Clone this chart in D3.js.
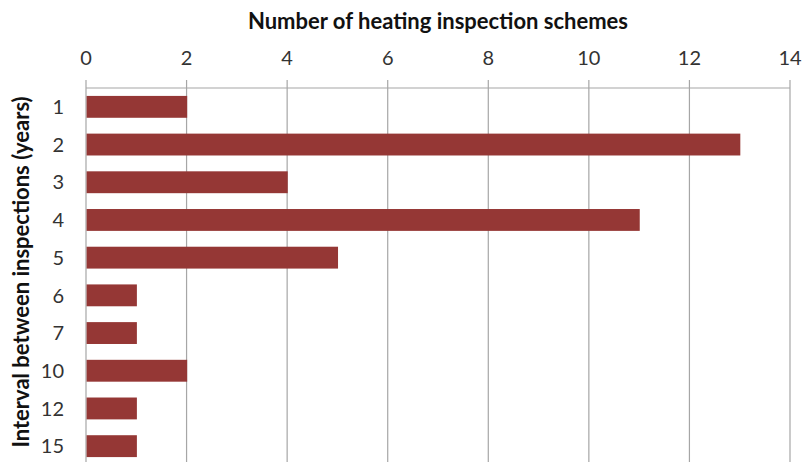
<!DOCTYPE html>
<html>
<head>
<meta charset="utf-8">
<script src="https://cdn.jsdelivr.net/npm/d3@7"></script>
<style>
  body { margin: 0; background: #fff; }
  text { font-family: Lato, "Open Sans", sans-serif; }
</style>
</head>
<body>
<div id="chart"></div>
<script>
// Data
var intervals = ["1", "2", "3", "4", "5", "6", "7", "10", "12", "15"];
var schemeCounts = [2, 13, 4, 11, 5, 1, 1, 2, 1, 1];
var xTicks = [0, 2, 4, 6, 8, 10, 12, 14];

var svgWidth = 803;
var svgHeight = 462;

var chartMargin = { top: 88, left: 86, right: 13 };
var rowHeight = 37.7;

var svg = d3.select("#chart")
  .append("svg")
  .attr("width", svgWidth)
  .attr("height", svgHeight);

var data = intervals.map(function(d, i) {
  return { interval: d, count: schemeCounts[i] };
});

var xLinearScale = d3.scaleLinear()
  .domain([0, 14])
  .range([chartMargin.left, svgWidth - chartMargin.right]);

var yBandScale = d3.scaleBand()
  .domain(intervals)
  .range([chartMargin.top, chartMargin.top + rowHeight * intervals.length])
  .paddingInner(0.42)
  .paddingOuter(0.21);

// vertical gridlines
svg.append("g")
  .selectAll("line")
  .data(xTicks)
  .enter()
  .append("line")
  .attr("x1", d => xLinearScale(d))
  .attr("x2", d => xLinearScale(d))
  .attr("y1", chartMargin.top - 8)
  .attr("y2", svgHeight)
  .attr("stroke", "#a6a6a6")
  .attr("stroke-width", 1.2);

// top axis line
svg.append("line")
  .attr("x1", xLinearScale(0))
  .attr("x2", xLinearScale(14))
  .attr("y1", chartMargin.top)
  .attr("y2", chartMargin.top)
  .attr("stroke", "#a6a6a6")
  .attr("stroke-width", 1.2);

// top tick labels
svg.append("g")
  .selectAll("text")
  .data(xTicks)
  .enter()
  .append("text")
  .attr("x", d => xLinearScale(d))
  .attr("y", 65)
  .attr("text-anchor", "middle")
  .style("font-size", "20px")
  .style("fill", "#333")
  .text(d => d);

// bars
svg.selectAll(".bar")
  .data(data)
  .enter()
  .append("rect")
  .attr("class", "bar")
  .attr("x", xLinearScale(0) + 0.6)
  .attr("y", d => yBandScale(d.interval))
  .attr("width", d => xLinearScale(d.count) - xLinearScale(0))
  .attr("height", yBandScale.bandwidth())
  .style("fill", "#953735");

// category labels
svg.append("g")
  .selectAll("text")
  .data(intervals)
  .enter()
  .append("text")
  .attr("x", 64)
  .attr("y", d => yBandScale(d) + yBandScale.bandwidth() / 2)
  .attr("dy", "0.36em")
  .attr("text-anchor", "end")
  .style("font-size", "20px")
  .style("fill", "#333")
  .text(d => d);

// axis titles
svg.append("text")
  .attr("x", 438)
  .attr("y", 29)
  .attr("text-anchor", "middle")
  .style("font-size", "22px")
  .style("font-weight", "bold")
  .style("fill", "#111")
  .text("Number of heating inspection schemes");

svg.append("text")
  .attr("transform", "translate(29, 272) rotate(-90)")
  .attr("text-anchor", "middle")
  .style("font-size", "22px")
  .style("font-weight", "bold")
  .style("fill", "#111")
  .text("Interval between inspections (years)");
</script>
</body>
</html>
